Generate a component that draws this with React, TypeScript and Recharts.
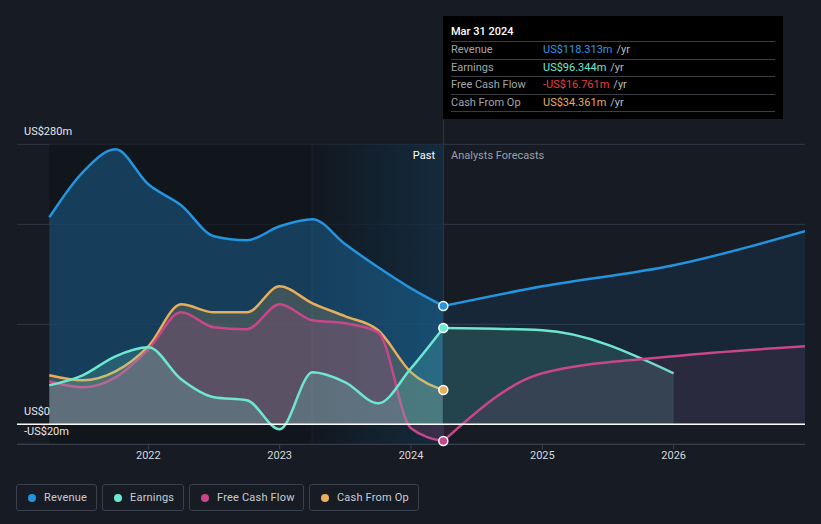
import React from "react";
import {
  ComposedChart,
  Area,
  XAxis,
  YAxis,
  CartesianGrid,
  ReferenceArea,
  ReferenceLine,
  ReferenceDot,
} from "recharts";

// quarterly trailing values (US$m), Mar 2021 -> Mar 2024
const pastDates = [2021.246, 2021.5, 2021.75, 2022.0, 2022.25, 2022.5, 2022.75, 2023.0, 2023.25, 2023.5, 2023.75, 2024.0, 2024.246];
const revenuePast = [207, 252, 275, 240, 219, 188, 184, 198, 205, 180, 157, 136, 118.313];
const earningsPast = [39, 49, 68, 77, 45, 27, 24, -5, 52, 42, 21, 56, 96.344];
const fcfPast = [43, 37, 47, 75, 112, 97, 95, 120, 104, 101, 92, -4, -16.761];
const cashOpPast = [49, 44, 53, 78, 120, 112, 112, 138, 121, 108, 94, 52, 34.361];

// analyst forecasts
const forecastDates = [2024.246, 2025.0, 2026.0, 2027.0];
const revenueForecast = [118.313, 138, 159, 193];
const earningsForecast = [96.344, 94, 51];
const fcfForecast = [-16.761, 51, 68, 78];

const yearTicks = [2022, 2023, 2024, 2025, 2026];
const valueTicks = [-20, 0, 100, 200, 280];
const valueLabels: Record<number, string> = { 280: "US$280m", 0: "US$0", [-20]: "-US$20m" };

const BLUE = "#2394df";
const TEAL = "#6ee7d2";
const PINK = "#c8478a";
const ORANGE = "#e7ae5c";

const lastIdx = pastDates.length - 1;
const nowDate = pastDates[lastIdx];
const yearAgo = nowDate - 1;

const rows: any[] = [];
pastDates.forEach((t, i) => {
  rows.push({
    t,
    revenue: revenuePast[i],
    earnings: earningsPast[i],
    fcf: fcfPast[i],
    cashOp: cashOpPast[i],
  });
});
forecastDates.forEach((t, i) => {
  let row = rows.find((r) => r.t === t);
  if (!row) {
    row = { t };
    rows.push(row);
  }
  row.revenueF = revenueForecast[i];
  row.earningsF = earningsForecast[i];
  row.fcfF = fcfForecast[i];
});

const legendItems = [
  { name: "Revenue", color: BLUE },
  { name: "Earnings", color: TEAL },
  { name: "Free Cash Flow", color: PINK },
  { name: "Cash From Op", color: ORANGE },
];
const legendBoxWidths = [81, 82, 115, 110];

const tooltipRows = [
  { name: "Revenue", value: "US$118.313m", color: "#2a9be8" },
  { name: "Earnings", value: "US$96.344m", color: TEAL },
  { name: "Free Cash Flow", value: "-US$16.761m", color: "#f03c3c" },
  { name: "Cash From Op", value: "US$34.361m", color: ORANGE },
];

const renderYTick = (props: any) => {
  const label = valueLabels[props.payload.value];
  if (!label) return <g key={props.index} />;
  return (
    <text key={props.index} x={24} y={props.y - 9} fill="#e6e8eb" fontSize={11} fontFamily="Roboto">
      {label}
    </text>
  );
};

export default function App() {
  return (
    <div
      style={{
        position: "absolute",
        left: 0,
        top: 0,
        width: 821,
        height: 524,
        background: "#161b24",
        fontFamily: "Roboto, sans-serif",
        overflow: "hidden",
      }}
    >
      <ComposedChart
        width={821}
        height={524}
        data={rows}
        margin={{ top: 119.3, right: 16, left: 16, bottom: 49.7 }}
      >
        <defs>
          <linearGradient id="lastYear" x1="0" x2="1" y1="0" y2="0">
            <stop offset="0%" stopColor="#2394df" stopOpacity={0.02} />
            <stop offset="100%" stopColor="#2394df" stopOpacity={0.17} />
          </linearGradient>
        </defs>
        <ReferenceArea x1={pastDates[0]} x2={nowDate} y1={-20} y2={280} fill="#0f131a" fillOpacity={0.7} stroke="none" />
        <ReferenceArea x1={yearAgo} x2={nowDate} y1={-20} y2={280} fill="url(#lastYear)" fillOpacity={1} stroke="none" />
        <ReferenceLine
          segment={[{ x: yearAgo, y: -20 }, { x: yearAgo, y: 280 }]}
          stroke="#ffffff"
          strokeOpacity={0.05}
        />
        <CartesianGrid horizontal vertical={false} horizontalValues={valueTicks} stroke="#323946" />
        <XAxis
          dataKey="t"
          type="number"
          domain={[2021, 2027]}
          ticks={yearTicks}
          allowDataOverflow
          tickFormatter={(v) => String(v)}
          axisLine={{ stroke: "#3c434f" }}
          tickLine={{ stroke: "#3c434f" }}
          tickSize={5}
          tick={{ fill: "#d6d8dc", fontSize: 11, fontFamily: "Roboto" }}
          height={30}
        />
        <YAxis
          type="number"
          domain={[-20, 305]}
          ticks={valueTicks}
          interval={0}
          allowDataOverflow
          width={1}
          axisLine={false}
          tickLine={false}
          tick={renderYTick}
        />
        <ReferenceLine x={nowDate} stroke="#2c3a4a" strokeWidth={1} />

        <Area type="monotone" dataKey="revenueF" stroke={BLUE} strokeWidth={2.5} fill={BLUE} fillOpacity={0.1} isAnimationActive={false} dot={false} activeDot={false} />
        <Area type="monotone" dataKey="earningsF" stroke={TEAL} strokeWidth={2.5} fill={TEAL} fillOpacity={0.15} isAnimationActive={false} dot={false} activeDot={false} />
        <Area type="monotone" dataKey="fcfF" stroke={PINK} strokeWidth={2.5} fill={PINK} fillOpacity={0.11} isAnimationActive={false} dot={false} activeDot={false} />

        <Area type="monotone" dataKey="revenue" stroke={BLUE} strokeWidth={2.5} fill={BLUE} fillOpacity={0.32} isAnimationActive={false} dot={false} activeDot={false} />
        <Area type="monotone" dataKey="cashOp" stroke={ORANGE} strokeWidth={2.5} fill={ORANGE} fillOpacity={0.2} isAnimationActive={false} dot={false} activeDot={false} />
        <Area type="monotone" dataKey="fcf" stroke={PINK} strokeWidth={2.5} fill={PINK} fillOpacity={0.2} isAnimationActive={false} dot={false} activeDot={false} />
        <Area type="monotone" dataKey="earnings" stroke={TEAL} strokeWidth={2.5} fill={TEAL} fillOpacity={0.2} isAnimationActive={false} dot={false} activeDot={false} />

        <ReferenceLine y={0} stroke="#ffffff" strokeWidth={1.5} />

        <ReferenceDot x={nowDate} y={revenuePast[lastIdx]} r={4.5} fill={BLUE} stroke="#ffffff" strokeWidth={1.5} />
        <ReferenceDot x={nowDate} y={earningsPast[lastIdx]} r={4.5} fill={TEAL} stroke="#ffffff" strokeWidth={1.5} />
        <ReferenceDot x={nowDate} y={fcfPast[lastIdx]} r={4.5} fill={PINK} stroke="#ffffff" strokeWidth={1.5} />
        <ReferenceDot x={nowDate} y={cashOpPast[lastIdx]} r={4.5} fill={ORANGE} stroke="#ffffff" strokeWidth={1.5} />
      </ComposedChart>

      <div style={{ position: "absolute", left: 0, width: 435, top: 149, textAlign: "right", color: "#ffffff", fontSize: 11 }}>
        Past
      </div>
      <div style={{ position: "absolute", left: 451, top: 149, color: "#9aa0a8", fontSize: 11 }}>
        Analysts Forecasts
      </div>

      <div
        style={{
          position: "absolute",
          left: 443,
          top: 16,
          width: 340,
          height: 103,
          background: "#000000",
          boxSizing: "border-box",
          padding: "0 8px",
        }}
      >
        <div style={{ color: "#ffffff", fontSize: 11, fontWeight: 500, height: 25, lineHeight: "31px" }}>Mar 31 2024</div>
        {tooltipRows.map((r) => (
          <div
            key={r.name}
            style={{
              borderTop: "1px solid #3a3d42",
              height: 16.5,
              lineHeight: "16px",
              fontSize: 11,
              display: "flex",
            }}
          >
            <span style={{ width: 92, color: "#a2a6ad" }}>{r.name}</span>
            <span style={{ color: r.color }}>{r.value}</span>
            <span style={{ color: "#b8bcc2", marginLeft: 4 }}>/yr</span>
          </div>
        ))}
        <div style={{ borderTop: "1px solid #3a3d42" }} />
      </div>

      <div style={{ position: "absolute", left: 16, top: 484, display: "flex", gap: 5 }}>
        {legendItems.map((l, i) => (
          <div
            key={l.name}
            style={{
              width: legendBoxWidths[i],
              height: 27,
              boxSizing: "border-box",
              border: "1px solid #3a414d",
              borderRadius: 3,
              padding: "0 0 0 11px",
              display: "flex",
              alignItems: "center",
              gap: 8,
              color: "#c9cdd3",
              fontSize: 11,
              whiteSpace: "nowrap",
            }}
          >
            <span style={{ width: 8, height: 8, borderRadius: 4, background: l.color, display: "inline-block" }} />
            <span style={{ letterSpacing: 0.2 }}>{l.name}</span>
          </div>
        ))}
      </div>
    </div>
  );
}
